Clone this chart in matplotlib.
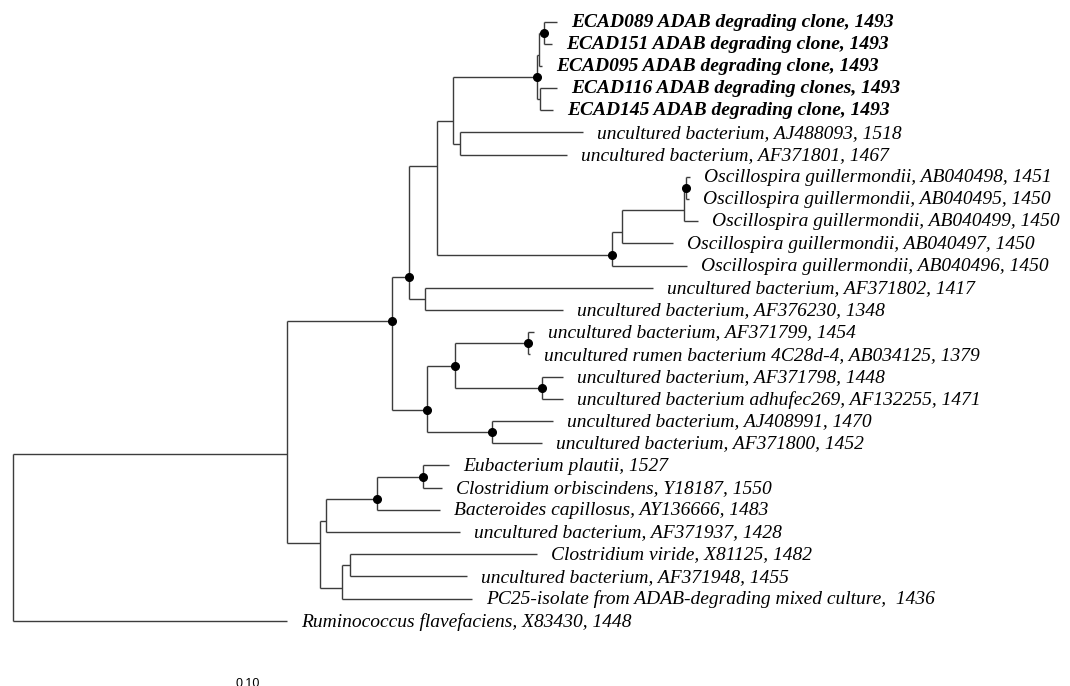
import matplotlib
matplotlib.use('Agg')
from matplotlib import pyplot as plt

# Leaf labels, top to bottom
leaf_names = [
    'ECAD089 ADAB degrading clone, 1493',
    'ECAD151 ADAB degrading clone, 1493',
    'ECAD095 ADAB degrading clone, 1493',
    'ECAD116 ADAB degrading clones, 1493',
    'ECAD145 ADAB degrading clone, 1493',
    'uncultured bacterium, AJ488093, 1518',
    'uncultured bacterium, AF371801, 1467',
    'Oscillospira guillermondii, AB040498, 1451',
    'Oscillospira guillermondii, AB040495, 1450',
    'Oscillospira guillermondii, AB040499, 1450',
    'Oscillospira guillermondii, AB040497, 1450',
    'Oscillospira guillermondii, AB040496, 1450',
    'uncultured bacterium, AF371802, 1417',
    'uncultured bacterium, AF376230, 1348',
    'uncultured bacterium, AF371799, 1454',
    'uncultured rumen bacterium 4C28d-4, AB034125, 1379',
    'uncultured bacterium, AF371798, 1448',
    'uncultured bacterium adhufec269, AF132255, 1471',
    'uncultured bacterium, AJ408991, 1470',
    'uncultured bacterium, AF371800, 1452',
    'Eubacterium plautii, 1527',
    'Clostridium orbiscindens, Y18187, 1550',
    'Bacteroides capillosus, AY136666, 1483',
    'uncultured bacterium, AF371937, 1428',
    'Clostridium viride, X81125, 1482',
    'uncultured bacterium, AF371948, 1455',
    'PC25-isolate from ADAB-degrading mixed culture,  1436',
    'Ruminococcus flavefaciens, X83430, 1448',
]
bold_leaves = leaf_names[:5]

# Tree edges: child, parent, branch length (leaves referred to by index)
edge_child = ['A', 27, 'B', 'C', 'D', 'E', 'F', 'G', 'H', 'P', 'J', 'I',
              'M', 'L', 'K', 2, 0, 1, 3, 4, 5, 6,
              'Q', 11, 'R', 10, 'S', 9, 7, 8,
              12, 13, 'T', 'U', 'V', 'W', 14, 15, 16, 17, 18, 19,
              'N', 'O', 'X', 23, 'Y', 22, 20, 21, 'Z', 26, 24, 25]
edge_parent = ['root', 'root', 'A', 'A', 'B', 'B', 'D', 'D', 'F', 'F', 'H', 'H',
               'J', 'J', 'M', 'M', 'K', 'K', 'L', 'L', 'I', 'I',
               'P', 'P', 'Q', 'Q', 'R', 'R', 'S', 'S',
               'G', 'G', 'E', 'E', 'T', 'T', 'V', 'V', 'W', 'W', 'U', 'U',
               'C', 'C', 'N', 'N', 'X', 'X', 'Y', 'Y', 'O', 'O', 'Z', 'Z']
edge_length = [0.274, 0.274, 0.105, 0.033, 0.017, 0.035, 0.028, 0.016, 0.016, 0.175, 0.084, 0.007,
               0.002, 0.003, 0.005, 0.003, 0.013, 0.008, 0.017, 0.013, 0.123, 0.107,
               0.010, 0.075, 0.062, 0.051, 0.002, 0.014, 0.004, 0.003,
               0.228, 0.138, 0.028, 0.065, 0.073, 0.087, 0.006, 0.002, 0.021, 0.021, 0.061, 0.050,
               0.006, 0.022, 0.051, 0.134, 0.046, 0.063, 0.026, 0.019, 0.008, 0.130, 0.187, 0.117]
supported_nodes = ['K', 'J', 'S', 'P', 'D', 'B', 'V', 'T', 'W', 'E', 'U', 'Y', 'X']
scale_label = '0.10'

children = {}
blen = {}
for c, p, l in zip(edge_child, edge_parent, edge_length):
    children.setdefault(p, []).append(c)
    blen[c] = l

xpos = {'root': 0.0}
ypos = {}
span = {}


def layout(node):
    if isinstance(node, int):
        ypos[node] = node
        span[node] = (node, node)
        return
    for c in children[node]:
        xpos[c] = xpos[node] + blen[c]
        layout(c)
    first, last = children[node][0], children[node][-1]
    span[node] = (span[first][0], span[last][1])
    # node sits between the two child groups
    ypos[node] = (span[first][1] + span[children[node][1]][0]) / 2


layout('root')

fig = plt.figure(figsize=(10.7, 6.86), dpi=100)
ax = fig.add_axes([0, 0, 1, 1])
ax.set_xlim(-0.013, 1.057)
ax.set_ylim((686 - 21.5) / 22.2, -21.5 / 22.2)
ax.axis('off')

lc = '#3c3c3c'
for node, kids in children.items():
    ys = [ypos[c] for c in kids]
    ax.plot([xpos[node], xpos[node]], [min(ys), max(ys)], color=lc, lw=1.0,
            solid_capstyle='butt')
    for c in kids:
        ax.plot([xpos[node], xpos[c]], [ypos[c], ypos[c]], color=lc, lw=1.0,
                solid_capstyle='butt')

for n in supported_nodes:
    ax.plot(xpos[n], ypos[n], 'o', color='black', ms=5.5, zorder=3)

for i, name in enumerate(leaf_names):
    ax.annotate(name, (xpos[i], ypos[i]), xytext=(10, -0.5), textcoords='offset points',
                ha='left', va='center', fontsize=14, family='Liberation Serif',
                style='italic', weight='bold' if name in bold_leaves else 'normal')

fig.text(248 / 1070, 1 - 684 / 686, scale_label, ha='center', va='center',
         fontsize=9, family='Liberation Sans')

fig.savefig('out.png', dpi=100)
